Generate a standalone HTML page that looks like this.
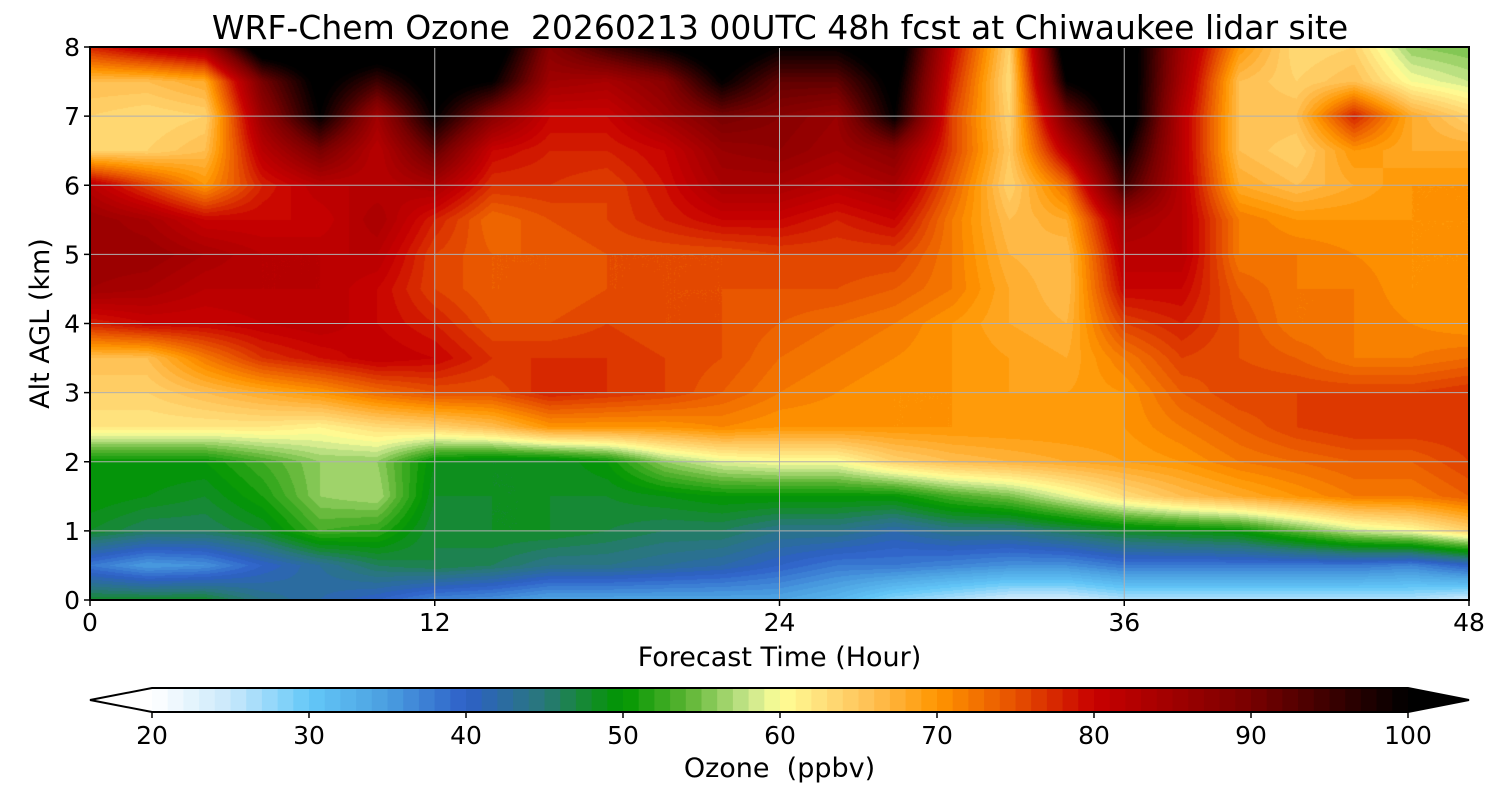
<!DOCTYPE html>
<html><head><meta charset="utf-8"><style>
html,body{margin:0;padding:0;background:#fff;}
body{width:1500px;height:800px;position:relative;overflow:hidden;font-family:"DejaVu Sans","Liberation Sans",sans-serif;}
.t{position:absolute;color:#000;white-space:nowrap;}
</style></head><body>
<div class="t" style="left:0;width:1560px;top:8px;text-align:center;font-size:33px;">WRF-Chem Ozone&nbsp; 20260213 00UTC 48h fcst at Chiwaukee lidar site</div>
<canvas id="cv" width="1379" height="553" style="position:absolute;left:90px;top:47px;"></canvas>
<svg id="ov" width="1500" height="800" style="position:absolute;left:0;top:0;font-family:'DejaVu Sans','Liberation Sans',sans-serif;"></svg>
<script>
const times=[0,2,4,6,8,10,12,14,16,18,20,22,24,26,28,30,32,34,36,38,40,42,44,46,48];
const alts=[8,7.5,7,6.5,6,5.5,5,4.5,4,3.5,3,2.5,2,1.5,1,0.5,0];
const z80=[78,82,85,105,105,105,105,105,88,95,100,105,100,100,105,80,64,105,105,85,70,63,64,56,55];
const z75=[66,66,68,90,102,95,103,100,85,84,88,100,92,92,102,78,63,100,105,84,66,64,66,60,58];
const z70=[64,63,64,86,100,85,100,88,80,80,85,90,88,86,100,76,64,90,105,82,66,66,78,68,64];
const z65=[64,64,66,82,90,82,92,80,78,78,80,86,87,85,88,76,65,82,100,82,66,64,70,68,68];
const z60=[82,76,70,78,82,82,84,77,77,76,79,84,84,82,84,74,64,73,95,82,68,66,68,70,70];
const z55=[86,84,80,80,80,84,78,73,75,76,78,80,80,78,80,72,66,68,85,82,72,70,70,70,70];
const z50=[86,86,84,82,82,82,76,74,74,75,75,75,76,76,76,72,67,66,82,82,72,72,71,70,70];
const z45=[85,84,82,82,82,80,76,74,74,75,75,75,75,75,74,72,68,66,80,80,74,72,72,70,70];
const z40=[78,80,80,81,82,80,78,75,75,76,75,75,74,73,72,70,68,67,76,78,75,72,72,71,70];
const z35=[66,66,72,77,79,81,80,77,77,77,76,75,73,72,71,70,69,68,72,76,75,74,72,72,73];
const z30=[64,64,66,68,70,73,75,75,78,77,76,74,72,71,70,70,69,69,70,74,76,76,76,76,77];
const z25=[62,62,62,62,61,63,64,66,70,70,70,71,70,70,70,70,70,70,70,72,74,76,77,77,77];
const z20=[50,50,50,53,56,56,49,48,48,50,56,59,60,60,64,66,67,68,69,70,72,73,74,74,76];
const z15=[50,49,48,51,56,57,48,48,48,48,49,50,50,50,50,53,55,59,63,66,68,70,72,72,74];
const z10=[48,46,46,48,53,52,47,48,48,47,46,46,44,44,42,44,44,46,48,49,50,54,58,60,64];
const z05=[38,35,36,40,43,46,47,46,44,44,43,42,40,38,38,37,36,36,38,38,38,38,38,37,40];
const z00=[48,48,48,44,42,40,37,36,34,34,34,34,34,32,28,26,24,24,26,26,26,26,26,26,24];
const grid=[z80,z75,z70,z65,z60,z55,z50,z45,z40,z35,z30,z25,z20,z15,z10,z05,z00];
const cbTicks=[20,30,40,50,60,70,80,90,100];
const xTicks=[0,12,24,36,48];
const yTicks=[0,1,2,3,4,5,6,7,8];
const stops=[[20,[255,255,255]],[25,[200,232,251]],[30,[100,200,248]],[35,[74,158,224]],[40,[46,96,200]],[45,[40,120,120]],[48,[18,140,40]],[50,[0,150,0]],[54,[90,180,50]],[58,[200,230,140]],[60,[255,255,150]],[63,[255,220,120]],[66,[255,190,80]],[70,[255,150,0]],[75,[230,80,0]],[80,[200,0,0]],[90,[120,0,0]],[100,[0,0,0]]];
function cmap(v){if(v<=stops[0][0])return stops[0][1];for(let i=1;i<stops.length;i++){if(v<=stops[i][0]){const a=stops[i-1],b=stops[i],f=(v-a[0])/(b[0]-a[0]);return a[1].map((c,k)=>Math.round(c+(b[1][k]-c)*f));}}return stops[stops.length-1][1];}
const X0=90,X1=1469,Y0=47,Y1=600;
const xs=t=>X0+(t/48)*(X1-X0), ys=z=>Y1-(z/8)*(Y1-Y0);
const cv=document.getElementById('cv'),ctx=cv.getContext('2d');
const W=cv.width,H=cv.height,img=ctx.createImageData(W,H);
const nc=times.length,nr=alts.length;
for(let py=0;py<H;py++){const z=8-(py+0.5)/H*8;const rf=(8-z)/0.5;let r=Math.min(nr-2,Math.floor(rf));const fy=rf-r;
 for(let px=0;px<W;px++){const t=(px+0.5)/W*48;const cf=t/2;let c=Math.min(nc-2,Math.floor(cf));const fx=cf-c;
  const v=grid[r][c]*(1-fx)*(1-fy)+grid[r][c+1]*fx*(1-fy)+grid[r+1][c]*(1-fx)*fy+grid[r+1][c+1]*fx*fy;
  const col=cmap(Math.floor(v)+0.5);const i=(py*W+px)*4;img.data[i]=col[0];img.data[i+1]=col[1];img.data[i+2]=col[2];img.data[i+3]=255;}}
ctx.putImageData(img,0,0);
const ov=document.getElementById('ov'),NS='http://www.w3.org/2000/svg';
function mk(tag,at,txt){const e=document.createElementNS(NS,tag);for(const k in at)e.setAttribute(k,at[k]);if(txt!==undefined)e.textContent=txt;ov.appendChild(e);return e;}
xTicks.forEach(t=>{const g=mk('line',{x1:xs(t),x2:xs(t),y1:Y0,y2:Y1,stroke:'#b0b0b0','stroke-width':1});


const tk=mk('line',{x1:xs(t),x2:xs(t),y1:Y1,y2:Y1+6,stroke:'#000','stroke-width':1.5});


const l=mk('text',{x:xs(t),y:Y1+31,'text-anchor':'middle','font-size':25},String(t));

});
yTicks.forEach(z=>{if(z>0&&z<8){const g=mk('line',{x1:X0,x2:X1,y1:ys(z),y2:ys(z),stroke:'#b0b0b0','stroke-width':1});

}
const tk=mk('line',{x1:X0-6,x2:X0,y1:ys(z),y2:ys(z),stroke:'#000','stroke-width':1.5});


const l=mk('text',{x:X0-10,y:ys(z)+9,'text-anchor':'end','font-size':25},String(z));

});
const fr=mk('rect',{x:X0,y:Y0,width:X1-X0,height:Y1-Y0,fill:'none',stroke:'#000','stroke-width':2});


const xl=mk('text',{x:(X0+X1)/2-0,y:666,'text-anchor':'middle','font-size':27},'Forecast Time (Hour)');


const yl=mk('text',{x:0,y:0,'text-anchor':'middle','font-size':27,transform:`translate(49,${(Y0+Y1)/2}) rotate(-90)`},'Alt AGL (km)');


const C0=152,C1=1408,CT=688,CB=712,cx=v=>C0+(v-20)/80*(C1-C0);
for(let v=20;v<100;v++){const r=mk('rect',{x:cx(v),y:CT,width:(C1-C0)/80+0.6,height:CB-CT,fill:'rgb('+cmap(v+0.5).join(',')+')'});

}
const lt=mk('polygon',{points:`${C0},${CT} 90,${(CT+CB)/2} ${C0},${CB}`,fill:'#fff'});


const rt=mk('polygon',{points:`${C1},${CT} 1469,${(CT+CB)/2} ${C1},${CB}`,fill:'#000'});


const cbo=mk('polygon',{points:`${C0},${CT} ${C1},${CT} 1469,${(CT+CB)/2} ${C1},${CB} ${C0},${CB} 90,${(CT+CB)/2}`,fill:'none',stroke:'#000','stroke-width':2});


cbTicks.forEach(v=>{const tk=mk('line',{x1:cx(v),x2:cx(v),y1:CB,y2:CB+6,stroke:'#000','stroke-width':1.5});


const l=mk('text',{x:cx(v),y:744,'text-anchor':'middle','font-size':25},String(v));

});
const cl=mk('text',{x:(X0+X1)/2,y:777,'text-anchor':'middle','font-size':27,style:'white-space:pre'},'Ozone  (ppbv)');


</script>
</body></html>
